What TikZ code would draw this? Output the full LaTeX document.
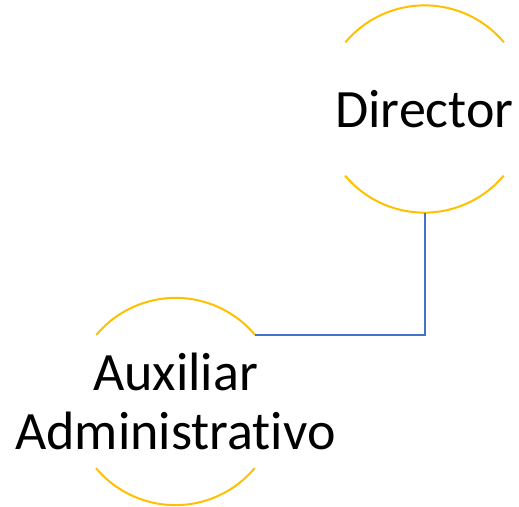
\documentclass[tikz,border=0pt]{standalone}
\usepackage{fontspec}
\setmainfont[Ligatures=NoCommon]{Carlito}
\definecolor{ringgold}{HTML}{FFC000}
\definecolor{linkblue}{HTML}{4472C4}
\tikzset{
  ring/.style={circle, minimum size=207pt, inner sep=0pt, draw=none},
  ringarc/.style={draw=ringgold, line width=2pt},
  link/.style={draw=linkblue, line width=2pt},
  label/.style={font=\fontsize{54}{59}\selectfont, align=center, inner sep=0pt}
}
\begin{document}
\begin{tikzpicture}[x=1pt,y=1pt]
  \useasboundingbox (0,0) rectangle (519,506);
  % circle placeholders
  \node[ring] (dir) at (424.5,397) {};
  \node[ring] (aux) at (175.5,104.5) {};
  % text inside the circles
  \node[label] (dirtext) at (dir.center) {Director};
  \node[label] (auxtext) at (aux.center) {Auxiliar\\Administrativo};
  % open rings: only top and bottom arcs
  \draw[ringarc] (dir.40) arc[start angle=40, end angle=140, radius=103.5pt];
  \draw[ringarc] (dir.220) arc[start angle=220, end angle=320, radius=103.5pt];
  \draw[ringarc] (aux.40) arc[start angle=40, end angle=140, radius=103.5pt];
  \draw[ringarc] (aux.220) arc[start angle=220, end angle=320, radius=103.5pt];
  % reporting line
  \draw[link] (dir.south) |- (aux.40);
\end{tikzpicture}
\end{document}
